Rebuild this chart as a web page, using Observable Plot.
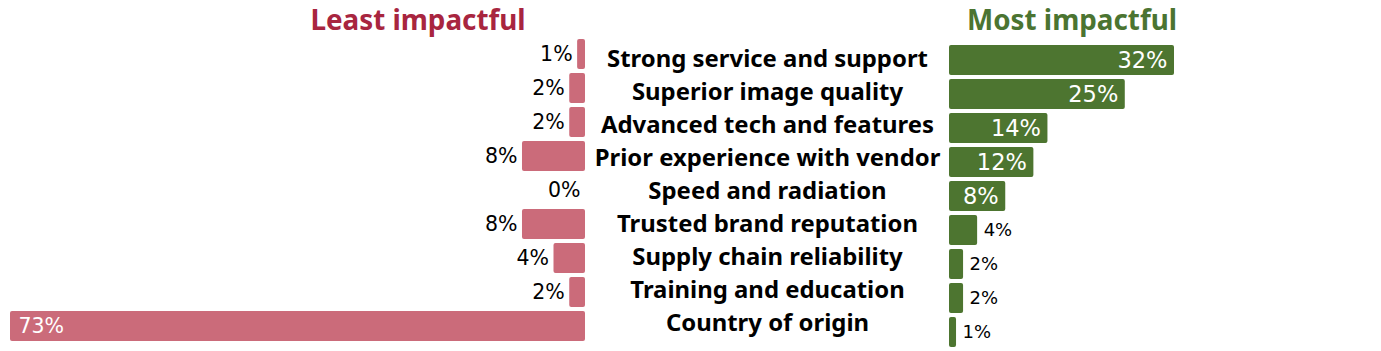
<!DOCTYPE html>
<html>
<head>
<meta charset="utf-8">
<script src="https://cdn.jsdelivr.net/npm/d3@7"></script>
<script src="https://cdn.jsdelivr.net/npm/@observablehq/plot@0.6"></script>
<style>
  html, body { margin: 0; padding: 0; background: #fff; }
  #wrap { position: relative; width: 1381px; height: 351px; overflow: hidden; }
  #wrap svg { position: absolute; left: 0; top: 0; }
  .title { position: absolute; top: 0px; font-family: 'Noto Sans', sans-serif; font-weight: 700; font-size: 27.8px; line-height: 38px; transform: translateX(-50%); white-space: nowrap; }
</style>
</head>
<body>
<div id="wrap">
  <div class="title" style="left:418px; color:#a8253f;">Least impactful</div>
  <div class="title" style="left:1072px; color:#4b7431;">Most impactful</div>
</div>
<script>
const categories = [
  "Strong service and support",
  "Superior image quality",
  "Advanced tech and features",
  "Prior experience with vendor",
  "Speed and radiation",
  "Trusted brand reputation",
  "Supply chain reliability",
  "Training and education",
  "Country of origin"
];
const leastImpactful = [1, 2, 2, 8, 0, 8, 4, 2, 73];
const mostImpactful = [32, 25, 14, 12, 8, 4, 2, 2, 1];

const W = 1381, H = 351;
const leftData = categories.map((c, i) => ({cat: c, v: leastImpactful[i]}));
const rightData = categories.map((c, i) => ({cat: c, v: mostImpactful[i]}));
const yOpts = {type: "band", domain: categories, padding: 0.12, axis: null};
const valFont = "'DejaVu Sans', sans-serif";

const left = Plot.plot({
  width: W, height: H,
  marginLeft: 10, marginRight: W - 585, marginTop: 34.9, marginBottom: 6,
  x: {domain: [0, 73], reverse: true, axis: null},
  y: yOpts,
  marks: [
    Plot.barX(leftData, {x: "v", y: "cat", fill: "#cb6b7a", rx: 2}),
    Plot.text(leftData.filter(d => d.v < 20), {x: "v", y: "cat", text: d => d.v + "%", textAnchor: "end", dx: -5, fill: "#000", fontSize: 20.5, fontFamily: valFont}),
    Plot.text(leftData.filter(d => d.v >= 20), {x: "v", y: "cat", text: d => d.v + "%", textAnchor: "start", dx: 8, fill: "#fff", fontSize: 20.5, fontFamily: valFont})
  ]
});

const right = Plot.plot({
  width: W, height: H,
  marginLeft: 949, marginRight: W - 1174, marginTop: 40.9, marginBottom: 0,
  x: {domain: [0, 32], axis: null},
  y: yOpts,
  marks: [
    Plot.barX(rightData, {x: "v", y: "cat", fill: "#4d7530", rx: 2}),
    Plot.text(rightData.filter(d => d.v >= 6), {x: "v", y: "cat", text: d => d.v + "%", textAnchor: "end", dx: -7, fill: "#fff", fontSize: 22.5, fontFamily: valFont}),
    Plot.text(rightData.filter(d => d.v < 6), {x: "v", y: "cat", text: d => d.v + "%", textAnchor: "start", dx: 6, fill: "#000", fontSize: 18, fontFamily: valFont})
  ]
});

const middle = Plot.plot({
  width: W, height: H,
  marginLeft: 585, marginRight: W - 949, marginTop: 36.5, marginBottom: 6,
  y: yOpts,
  marks: [
    Plot.text(categories, {y: d => d, text: d => d, frameAnchor: "middle", fontSize: 23.9, fontWeight: 700, fontFamily: "'Noto Sans', sans-serif", fill: "#000"})
  ]
});

const wrap = document.getElementById("wrap");
for (const p of [left, right, middle]) {
  p.style.background = "transparent";
  wrap.appendChild(p);
}
</script>
</body>
</html>
